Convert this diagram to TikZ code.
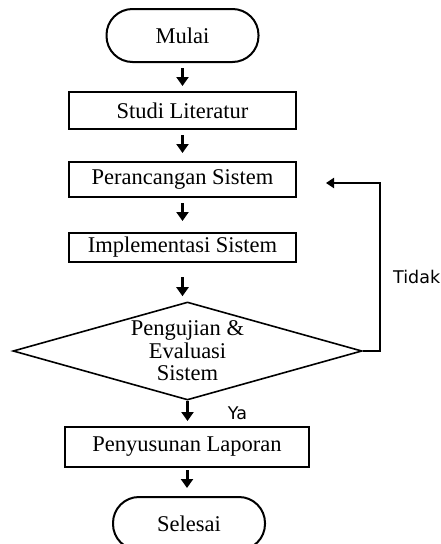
\documentclass[tikz,border=0pt]{standalone}
\usepackage{fontspec}
\setmainfont{Liberation Serif}
\newfontfamily\ketfont{DejaVu Sans}
\usetikzlibrary{shapes.geometric, arrows.meta}

\tikzset{
  terminal/.style={draw=black, line width=2pt, rounded corners=26pt, minimum width=152pt, minimum height=53pt, inner sep=0pt},
  proses/.style={draw=black, line width=2pt, minimum width=227pt, inner sep=0pt},
  keputusan/.style={draw=black, line width=1.6pt, diamond, aspect=3.56, minimum width=349pt, minimum height=98pt, inner sep=0pt, align=center},
  panah/.style={-{Triangle[length=9pt,width=12pt]}, line width=3pt},
  ket/.style={font=\ketfont\fontsize{17.5}{19}\selectfont, inner sep=0pt}
}

\begin{document}
\begin{tikzpicture}[x=1pt, y=-1pt, font=\fontsize{22.5}{22.5}\selectfont]
        \useasboundingbox (0,0) rectangle (440,544);
        \node[terminal] (mulai) at (182.5,35.5) {Mulai};
        \node[proses, minimum height=37pt] (studi) at (182.5,110.5) {Studi Literatur};
        \node[proses, minimum height=35pt] (rancang) at (182.5,179.5) {Perancangan Sistem};
        \node[proses, minimum height=29pt] (implementasi) at (182.5,247.5) {Implementasi Sistem};
        \node[keputusan] (uji) at (187.5,351) {Pengujian \&\\ Evaluasi\\ Sistem};
        \node[proses, minimum width=244pt, minimum height=40pt] (susun) at (187,447) {Penyusunan Laporan};
        \node[terminal] (selesai) at (189,523.5) {Selesai};
        \coordinate (belok) at (380,183);
        \draw[panah, shorten <=5pt, shorten >=5pt] (mulai.south) -- (mulai.south |- studi.north);
        \draw[panah, shorten <=5pt, shorten >=8pt] (studi.south) -- (studi.south |- rancang.north);
        \draw[panah, shorten <=5pt, shorten >=11pt] (rancang.south) -- (rancang.south |- implementasi.north);
        \draw[panah, shorten <=14pt, shorten >=5pt] (implementasi.south) -- (implementasi.south |- uji.north);
        \draw[panah, shorten >=5pt] (uji.south) -- (uji.south |- susun.north);
        \draw[panah, shorten <=2pt, shorten >=8pt] (susun.south) -- (susun.south |- selesai.north);
        \draw[panah, line width=2.2pt, -{Triangle[length=8pt,width=10pt]}, shorten >=29pt] (uji.east) -| (belok) -- (rancang.east |- belok);
        \node[ket, anchor=west] (tidak) at (393,277) {Tidak};
        \node[ket] (ya) at (237.5,413) {Ya};
    \end{tikzpicture}
\end{document}
